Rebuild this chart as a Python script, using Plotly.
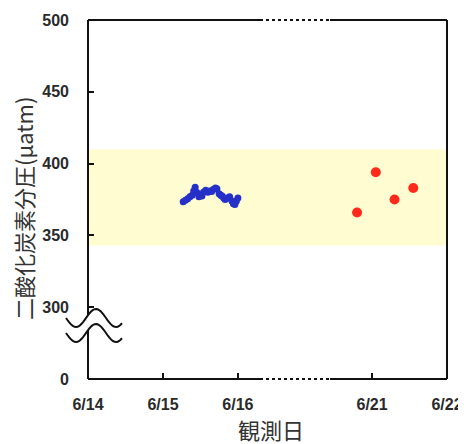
import math
import plotly.graph_objects as go

# ---- data ----
tick_days = [14, 15, 16, 21, 22]
tick_labels = ["6/14", "6/15", "6/16", "6/21", "6/22"]
y_tickvals = [250, 300, 350, 400, 450, 500]
y_ticktext = ["0", "300", "350", "400", "450", "500"]

band_low, band_high = 343, 410

blue_days = [15.27, 15.30, 15.33, 15.36, 15.39, 15.41, 15.43, 15.45, 15.48, 15.50,
             15.52, 15.54, 15.57, 15.60, 15.62, 15.65, 15.67, 15.70, 15.72, 15.75,
             15.77, 15.79, 15.81, 15.83, 15.86, 15.89, 15.92, 15.94, 15.96, 15.98,
             16.00, 16.03, 16.05]
blue_vals = [373.5, 374.5, 375.5, 377, 378, 381, 383.5, 380, 377, 378,
             377.5, 380, 381.5, 380, 381, 380.5, 382, 383, 382.5, 379,
             378, 377.5, 376, 375, 376, 377, 374, 372, 371.5, 374,
             376, 374.5, 373.5]

red_days = [20.80, 21.05, 21.30, 21.55]
red_vals = [366, 394, 375, 383]

# broken time axis: 6/16 -> 6/21 compressed
GAP_POS = 3.79


def pos(d):
    return [float(v - 14) if v <= 16 else float(GAP_POS + (v - 21)) for v in d]


# page geometry (pixels); the page has an 8px body margin
OFF = 8
W, H = 466, 444
L, R, T, B = 88, 447, 20, 379


def px(x):
    return (x - L) / (R - L)


def py(y):
    return (B - y) / (B - T)


fig = go.Figure()

fig.add_trace(go.Scatter(
    x=pos(blue_days), y=blue_vals, mode="markers",
    marker=dict(color="#2530c8", size=7, line=dict(width=0)),
    showlegend=False, hoverinfo="skip"))

fig.add_trace(go.Scatter(
    x=pos(red_days), y=red_vals, mode="markers",
    marker=dict(color="#ff2a1a", size=10, line=dict(width=0)),
    showlegend=False, hoverinfo="skip"))

shapes = []
shapes.append(dict(type="rect", xref="paper", yref="y", x0=0, x1=1,
                   y0=band_low, y1=band_high, fillcolor="#fffcd2",
                   line=dict(width=0), layer="below"))

lc = "#111111"
brk0, brk1 = 260, 330
for seg in [((L, T), (L, B)), ((R, T), (R, B)),
            ((L, T), (brk0, T)), ((brk1, T), (R, T)),
            ((L, B), (brk0, B)), ((brk1, B), (R, B))]:
    (x0, y0), (x1, y1) = seg
    shapes.append(dict(type="line", xref="paper", yref="paper",
                       x0=px(x0), y0=py(y0), x1=px(x1), y1=py(y1),
                       line=dict(color=lc, width=2)))
for yy in (T, B):
    shapes.append(dict(type="line", xref="paper", yref="paper",
                       x0=px(brk0), y0=py(yy), x1=px(brk1), y1=py(yy),
                       line=dict(color=lc, width=2, dash="dot")))


def wave(y_base, n=40):
    xs = [66 + i * (122 - 66) / (n - 1) for i in range(n)]
    ys = [y_base + 9 * math.sin((x - 66) / 40 * 2 * math.pi) for x in xs]
    return xs, ys


xs1, ys1 = wave(318)
xs2, ys2 = wave(333)
path = "M " + " L ".join(f"{px(a):.5f},{py(b):.5f}" for a, b in zip(xs1, ys1))
path += " L " + " L ".join(f"{px(a):.5f},{py(b):.5f}" for a, b in zip(xs2[::-1], ys2[::-1])) + " Z"
shapes.append(dict(type="path", xref="paper", yref="paper", path=path,
                   fillcolor="white", line=dict(width=0)))
for xs, ys in [(xs1, ys1), (xs2, ys2)]:
    p = "M " + " L ".join(f"{px(a):.5f},{py(b):.5f}" for a, b in zip(xs, ys))
    shapes.append(dict(type="path", xref="paper", yref="paper", path=p,
                       line=dict(color=lc, width=2)))

tick_font = dict(family="Liberation Sans, Arial, sans-serif", size=16,
                 color="#2a2a2a", weight="bold")
title_font = dict(family="Noto Sans CJK JP", size=22, color="#333333")

annotations = [
    dict(text="二酸化炭素分圧(µatm)", textangle=-90, xref="paper", yref="paper",
         x=px(23), y=py(209), xanchor="center", yanchor="middle",
         showarrow=False, font=title_font),
    dict(text="観測日", xref="paper", yref="paper",
         x=px(271), y=py(429), xanchor="center", yanchor="middle",
         showarrow=False, font=dict(family="Noto Sans CJK JP", size=22,
                                    color="#333333")),
]

fig.update_layout(
    width=W - OFF, height=H - OFF,
    margin=dict(l=L - OFF, r=W - R, t=T - OFF, b=H - B, autoexpand=False),
    paper_bgcolor="white", plot_bgcolor="white",
    shapes=shapes, annotations=annotations,
    xaxis=dict(range=[0, GAP_POS + 1], tickvals=pos(tick_days),
               ticktext=tick_labels, ticks="inside", ticklen=6, tickwidth=2,
               tickcolor=lc, showgrid=False, zeroline=False, showline=False,
               tickfont=tick_font, ticklabelstandoff=14, automargin=False),
    yaxis=dict(range=[250, 500], tickvals=y_tickvals, ticktext=y_ticktext,
               ticks="inside", ticklen=6, tickwidth=2, tickcolor=lc,
               showgrid=False, zeroline=False, showline=False,
               tickfont=tick_font, ticklabelstandoff=18, automargin=False),
)

fig.write_html("out.html")
